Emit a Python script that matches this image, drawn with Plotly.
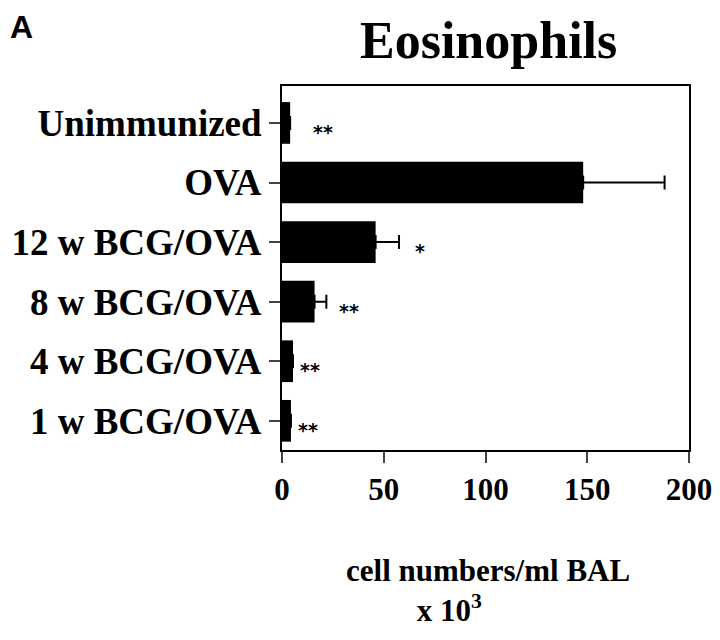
import plotly.graph_objects as go

categories = ["1 w BCG/OVA", "4 w BCG/OVA", "8 w BCG/OVA", "12 w BCG/OVA", "OVA", "Unimmunized"]
values = [4.4, 5.4, 16, 46, 148, 4]
errors = [0, 0, 5.8, 11.5, 40, 0]
sig_marks = ["**", "**", "**", "*", "", "**"]
sig_x = [13, 14, 33, 68, None, 20]
x_ticks = [0, 50, 100, 150, 200]

serif = "Liberation Serif, DejaVu Serif, serif"
sans = "DejaVu Sans, Liberation Sans, sans-serif"

# the page body has an 8px default margin on each side; size the figure so it fits the window
OFF = 8
FW, FH = 720 - 2 * OFF, 640 - 2 * OFF
X0, X1, Y0, Y1 = 282, 689, 86, 450          # plot area in window pixels
L, T = X0 - OFF, Y0 - OFF
R, B = FW - (X1 - OFF), FH - (Y1 - OFF)
PW = X1 - X0

fig = go.Figure()
fig.add_trace(go.Bar(
    y=categories, x=values, orientation="h",
    marker=dict(color="black", line=dict(width=0)),
    width=0.7,
    error_x=dict(type="data", array=errors, arrayminus=[0]*len(errors), symmetric=False,
                 color="black", thickness=2, width=7),
    showlegend=False,
))

for c, m, sx in zip(categories, sig_marks, sig_x):
    if m:
        fig.add_annotation(x=sx, y=c, text="<b>" + m + "</b>", showarrow=False,
                           font=dict(family=sans, size=19, color="black"),
                           yshift=-9)

fig.add_annotation(x=(488 - X0) / PW, y=1, xref="paper", yref="paper", yanchor="middle", yshift=46,
                   text="<b>Eosinophils</b>", showarrow=False,
                   font=dict(family=serif, size=52, color="black"))
fig.add_annotation(x=(488 - X0) / PW, y=0, xref="paper", yref="paper", yanchor="middle", yshift=-140,
                   text="<b>cell numbers/ml BAL<br>x 10<sup>3</sup>" + "&nbsp;" * 10 + "</b>",
                   showarrow=False, align="center",
                   font=dict(family=serif, size=31, color="black"))
fig.add_annotation(x=(21 - X0) / PW, y=1, xref="paper", yref="paper", xanchor="center", yanchor="middle",
                   yshift=59, text="<b>A</b>", showarrow=False,
                   font=dict(family="Liberation Sans, Arial, sans-serif", size=32, color="black"))

fig.update_layout(
    width=FW, height=FH,
    margin=dict(l=L, r=R, t=T, b=B),
    paper_bgcolor="white", plot_bgcolor="white",
    xaxis=dict(range=[0, 200], tickvals=x_ticks, ticks="outside", ticklen=11, tickwidth=2,
               showline=True, linewidth=2, linecolor="black", mirror=True, showgrid=False,
               zeroline=False, automargin=False, ticklabeloverflow="allow",
               tickfont=dict(family=serif, size=31, color="black", weight="bold")),
    yaxis=dict(categoryorder="array", categoryarray=categories, range=[-0.49, 5.62],
               ticks="outside", ticklen=11, tickwidth=2, automargin=False,
               ticklabeloverflow="allow",
               showline=True, linewidth=2, linecolor="black", mirror=True, showgrid=False,
               tickfont=dict(family=serif, size=37, color="black", weight="bold")),
)

fig.write_html("out.html")
